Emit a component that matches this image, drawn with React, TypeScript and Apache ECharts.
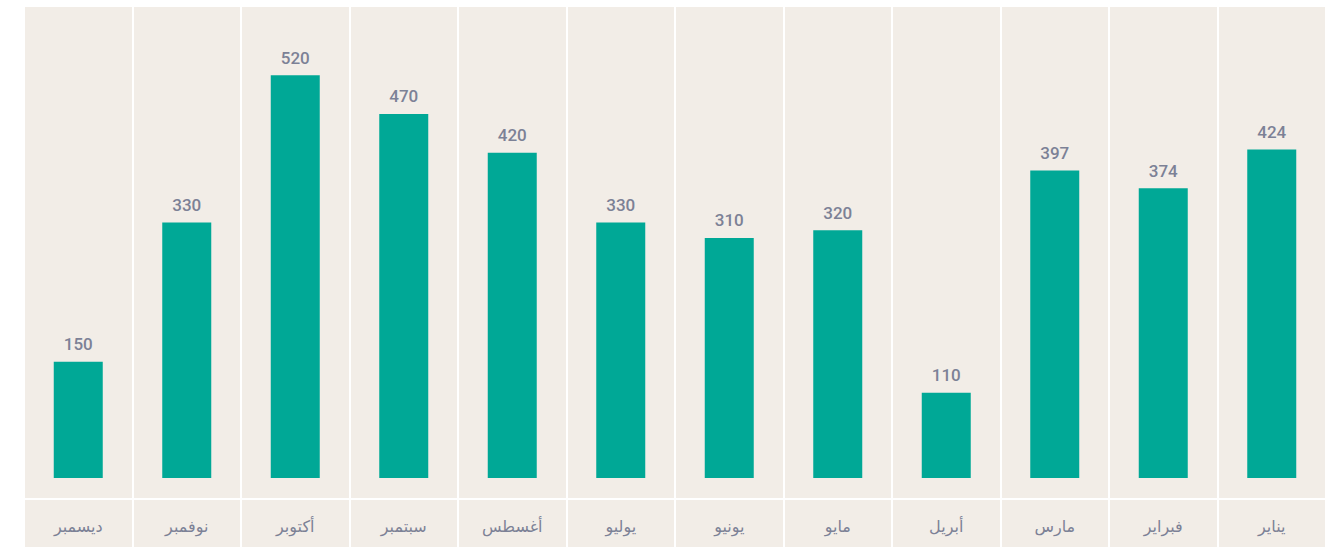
import React, { useEffect, useRef } from "react";
import * as echarts from "echarts";

const categories = ["يناير", "فبراير", "مارس", "أبريل", "مايو", "يونيو", "يوليو", "أغسطس", "سبتمبر", "أكتوبر", "نوفمبر", "ديسمبر"];
const values = [424, 374, 397, 110, 320, 310, 330, 420, 470, 520, 330, 150];

export default function App() {
  const ref = useRef<HTMLDivElement>(null);
  useEffect(() => {
    if (!ref.current) return;
    const chart = echarts.init(ref.current, undefined, { renderer: "svg" });
    const bg = "#f2ede7";
    const textColor = "#7c8196";
    chart.setOption({
      animation: false,
      backgroundColor: "#ffffff",
      grid: [
        { left: 24, right: 0, top: 7, bottom: 48, show: true, backgroundColor: bg, borderWidth: 0 },
        { left: 24, right: 0, top: 499, bottom: 0, show: true, backgroundColor: bg, borderWidth: 0 },
      ],
      xAxis: [
        {
          type: "category",
          gridIndex: 0,
          data: categories,
          inverse: true,
          axisLine: { show: true, onZero: false, lineStyle: { color: "#ffffff", width: 2 } },
          axisTick: { show: false },
          axisLabel: { show: false },
          splitLine: { show: true, lineStyle: { color: "#ffffff", width: 2 } },
        },
        {
          type: "category",
          gridIndex: 1,
          data: categories,
          inverse: true,
          position: "top",
          axisLine: { show: false },
          axisTick: { show: false },
          axisLabel: {
            show: true,
            inside: true,
            margin: 19,
            color: textColor,
            fontSize: 16,
            fontFamily: "'DejaVu Sans', 'Noto Sans', sans-serif",
          },
          splitLine: { show: true, lineStyle: { color: "#ffffff", width: 2 } },
        },
      ],
      yAxis: [
        { type: "value", gridIndex: 0, min: -27, max: 608, show: false, splitLine: { show: false } },
        { type: "value", gridIndex: 1, show: false, splitLine: { show: false } },
      ],
      series: [
        {
          type: "bar",
          xAxisIndex: 0,
          yAxisIndex: 0,
          data: values,
          barWidth: 49,
          itemStyle: { color: "#00a896" },
          label: {
            show: true,
            position: "top",
            distance: 9,
            color: textColor,
            fontSize: 17,
            fontWeight: 500,
            fontFamily: "Roboto, 'Noto Sans', sans-serif",
          },
        },
      ],
    });
    return () => chart.dispose();
  }, []);
  return <div ref={ref} style={{ position: "fixed", left: 0, top: 0, width: 1326, height: 547 }} />;
}
